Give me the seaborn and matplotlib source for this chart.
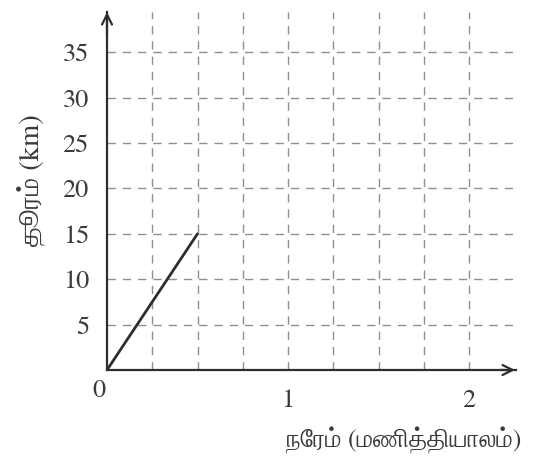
import numpy as np
import pandas as pd
import matplotlib
matplotlib.use("Agg")
import matplotlib.pyplot as plt
import seaborn as sns

# --- data ---
time_hours = [0, 0.5]
distance_km = [0, 15]
x_ticks = [0.25, 0.5, 0.75, 1.0, 1.25, 1.5, 1.75, 2.0]
x_labels = ["", "", "", "1", "", "", "", "2"]
y_ticks = [5, 10, 15, 20, 25, 30, 35]
x_title = "நேரம் (மணித்தியாலம்)"
y_title = "தூரம் (km)"

sns.set_style("white")
# serif latin + a font that has tamil glyphs
plt.rcParams["font.family"] = ["FreeSerif", "Liberation Serif", "DejaVu Sans"]

df = pd.DataFrame({"time": time_hours, "dist": distance_km})

INK = "#2e2e2e"
TXT = "#3a3a3a"
GRID = "#8f8f8f"

W, H = 535, 462
fig = plt.figure(figsize=(W / 100, H / 100), dpi=100)
x0, y0 = 107, 370          # pixel of the origin
x_end, y_end = 516, 12     # arrow tips
ax = fig.add_axes([x0 / W, (H - y0) / H, (x_end - x0) / W, (y0 - y_end) / H])

xmax = (x_end - x0) / 181.0
ymax = (y0 - y_end) / 9.08
ax.set_xlim(0, xmax)
ax.set_ylim(0, ymax)

# dashed grid
for xv in x_ticks:
    ax.axvline(xv, color=GRID, lw=1.0, ls=(0, (6, 5)), zorder=1)
for yv in y_ticks:
    ax.axhline(yv, color=GRID, lw=1.0, ls=(0, (6, 5)), zorder=1)

sns.lineplot(data=df, x="time", y="dist", color=INK, lw=2, ax=ax, zorder=3)

for s in ["top", "right"]:
    ax.spines[s].set_visible(False)
for s in ["left", "bottom"]:
    ax.spines[s].set_color(INK)
    ax.spines[s].set_linewidth(1.6)

# arrow heads on the axes
ax.annotate("", xy=(xmax + 0.01, 0), xytext=(xmax - 0.1, 0),
            arrowprops=dict(arrowstyle="->", color=INK, lw=1.6,
                            mutation_scale=18), annotation_clip=False)
ax.annotate("", xy=(0, ymax + 0.3), xytext=(0, ymax - 3),
            arrowprops=dict(arrowstyle="->", color=INK, lw=1.6,
                            mutation_scale=18), annotation_clip=False)

ax.set_xticks(x_ticks)
ax.set_xticklabels(x_labels)
ax.set_yticks(y_ticks)
ax.tick_params(axis="both", direction="inout", length=10, width=1.3,
               color=INK, labelsize=19, labelcolor=TXT)
ax.tick_params(axis="x", pad=9)
ax.tick_params(axis="y", pad=8)

fig.text(99 / W, 1 - 391 / H, "0", ha="center", va="center", fontsize=19, color=TXT)

ax.set_xlabel("")
ax.set_ylabel("")
fig.text(521 / W, 1 - 440 / H, x_title, ha="right", va="center",
         fontsize=18.5, color=TXT)
fig.text(31 / W, 1 - 180 / H, y_title, ha="center", va="center",
         rotation=90, fontsize=20.5, color=TXT)

fig.savefig("out.png", dpi=100)
